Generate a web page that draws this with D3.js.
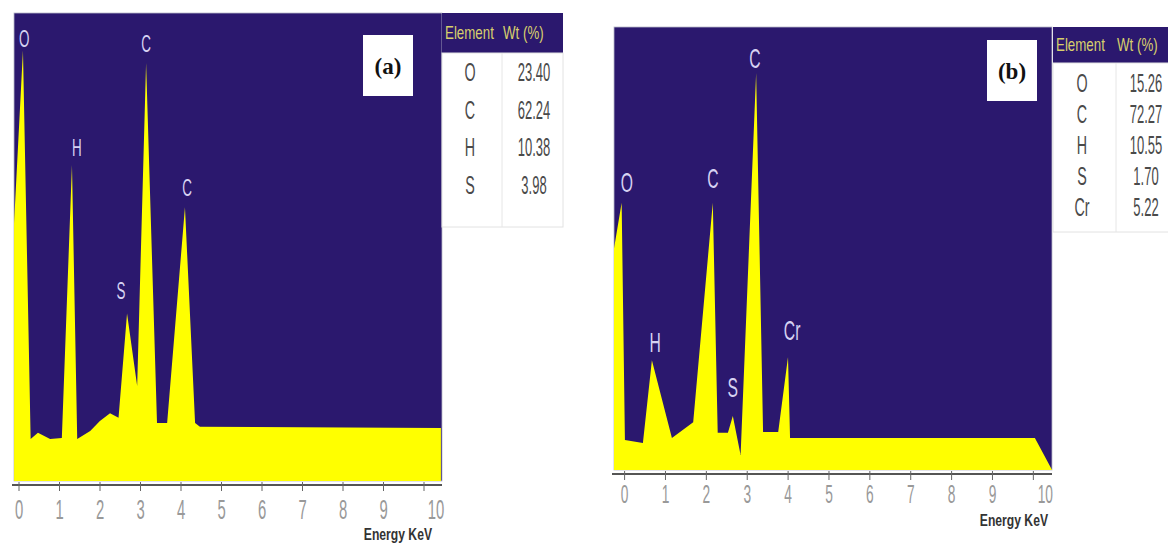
<!DOCTYPE html>
<html>
<head>
<meta charset="utf-8">
<script src="https://cdn.jsdelivr.net/npm/d3@7"></script>
<style>
  body { margin: 0; background: #fff; }
  svg text { font-family: "Liberation Sans", Arial, sans-serif; }
</style>
</head>
<body>
<div id="chart"></div>
<script>
// energy axis ticks (keV)
var energyTicks = [0, 1, 2, 3, 4, 5, 6, 7, 8, 9, 10];

// spectrum (a): energy in keV, counts on a relative 0-100 scale
var energyA = [-0.11, 0.11, 0.30, 0.48, 0.78, 1.07, 1.32, 1.45, 1.77, 2.01, 2.26, 2.47, 2.68, 2.93, 3.15, 3.42, 3.67, 4.11, 4.36, 4.48, 10.43];
var countsA = [55, 92, 9.0, 10.3, 9.0, 9.2, 67.5, 9.0, 10.7, 12.8, 14.5, 13.5, 35.8, 20.3, 89.3, 12.4, 12.4, 58.5, 12.4, 11.6, 11.3];
var peakNamesA = ["O", "H", "S", "C", "C"];
var peakEnergyA = [0.14, 1.44, 2.53, 3.15, 4.16];
var peakCountsA = [94.6, 71.3, 40.7, 93.6, 62.7];
var elementsA = ["O", "C", "H", "S"];
var wtA = ["23.40", "62.24", "10.38", "3.98"];

// spectrum (b)
var energyB = [-0.247, -0.06, 0.02, 0.46, 0.68, 1.17, 1.69, 2.17, 2.29, 2.54, 2.66, 2.85, 3.23, 3.40, 3.77, 4.01, 4.06, 10.05, 10.47];
var countsB = [50, 60.3, 6.8, 6.1, 24.8, 7.2, 10.8, 60.3, 8.4, 8.4, 12.2, 3.4, 89.6, 8.6, 8.6, 25.5, 7.2, 7.2, 0];
var peakNamesB = ["O", "H", "C", "S", "C", "Cr"];
var peakEnergyB = [0.07, 0.76, 2.17, 2.66, 3.20, 4.11];
var peakCountsB = [65.0, 28.9, 65.9, 18.7, 93.0, 31.6];
var elementsB = ["O", "C", "H", "S", "Cr"];
var wtB = ["15.26", "72.27", "10.55", "1.70", "5.22"];

var BLUE = "#2b186e", YELLOW = "#ffff00";

var svg = d3.select("#chart").append("svg")
    .attr("width", 1168)
    .attr("height", 546);

// text squeezed horizontally, like the narrow font of the original
function narrow(g, txt, x, y, size, sx, anchor, fill, weight) {
    return g.append("text")
        .attr("transform", "translate(" + x + "," + y + ") scale(" + sx + ",1)")
        .attr("text-anchor", anchor || "middle")
        .attr("dominant-baseline", "central")
        .style("font-size", size + "px")
        .style("font-weight", weight || "normal")
        .attr("fill", fill)
        .text(txt);
}

function drawPanel(p) {
    var g = svg.append("g");
    var x = d3.scaleLinear().domain([0, 10]).range(p.xRange);
    var y = d3.scaleLinear().domain([0, 100]).range(p.yRange);

    g.append("rect")
        .attr("x", p.left).attr("y", p.top)
        .attr("width", p.right - p.left).attr("height", y(0) - p.top)
        .attr("fill", BLUE)
        .attr("stroke", "#b8b8c8").attr("stroke-width", 0.8);

    var pts = p.energy.map(function(e, i) { return [e, p.counts[i]]; });
    var area = d3.area()
        .x(function(d) { return x(d[0]); })
        .y0(y(0))
        .y1(function(d) { return y(d[1]); });
    g.append("path").datum(pts).attr("d", area).attr("fill", YELLOW);

    // peak labels
    p.peakNames.forEach(function(n, i) {
        narrow(g, n, x(p.peakEnergy[i]), y(p.peakCounts[i]), p.labelSize, 0.56, "middle", "#d6d2f2");
    });

    // energy axis
    var ax = g.append("g").attr("transform", "translate(0," + p.axisY + ")");
    ax.append("line")
        .attr("x1", p.left - 2).attr("x2", p.right)
        .attr("stroke", "#555").attr("stroke-width", 2);
    ax.call(d3.axisBottom(x).tickValues(energyTicks).tickSize(6).tickSizeOuter(0))
        .call(function(a) { a.select(".domain").remove(); });
    ax.selectAll(".tick line").attr("y1", -3).attr("stroke", "#666");
    ax.selectAll(".tick text")
        .attr("y", p.tickTextY).attr("dy", null)
        .attr("fill", "#999")
        .style("font-size", p.tickSize + "px")
        .attr("transform", function(d) { return d === 10 ? "translate(12,0) scale(0.55,1)" : "scale(0.55,1)"; });

    narrow(g, "Energy KeV", p.xlabel[0], p.xlabel[1], 16, 0.76, "end", "#333", "bold");

    // panel tag
    g.append("rect")
        .attr("x", p.tag[0]).attr("y", p.tag[1]).attr("width", 50).attr("height", 61)
        .attr("fill", "#fff");
    g.append("text")
        .attr("x", p.tag[0] + 25).attr("y", p.tag[1] + 31)
        .attr("text-anchor", "middle").attr("dominant-baseline", "central")
        .style("font-family", "'Liberation Serif', serif")
        .style("font-size", "23px").style("font-weight", "bold")
        .attr("fill", "#111")
        .text(p.tagText);

    // composition table
    var t = p.table;
    g.append("rect").attr("x", t.x).attr("y", t.y).attr("width", t.w).attr("height", t.head)
        .attr("fill", BLUE);
    g.append("rect").attr("x", t.x).attr("y", t.y + t.head).attr("width", t.w).attr("height", t.body)
        .attr("fill", "#fff").attr("stroke", "#e2e2e2");
    g.append("line")
        .attr("x1", t.split).attr("x2", t.split)
        .attr("y1", t.y + t.head).attr("y2", t.y + t.head + t.body)
        .attr("stroke", "#e6e6e6");
    narrow(g, "Element", t.x + 3, t.y + t.head / 2, 18, 0.74, "start", "#d8cf6c");
    narrow(g, "Wt (%)", t.split + 1, t.y + t.head / 2, 18, 0.74, "start", "#d8cf6c");
    p.elements.forEach(function(el, i) {
        var ry = t.y + t.head + t.row0 + i * t.step;
        narrow(g, el, t.col1, ry, 26, 0.55, "middle", "#4a4a4a");
        narrow(g, p.wt[i], t.col2, ry, 26, 0.5, "middle", "#4a4a4a");
    });
}

drawPanel({
    left: 14, right: 442, top: 13,
    xRange: [18.5, 423.5], yRange: [481, 13],
    energy: energyA, counts: countsA,
    peakNames: peakNamesA, peakEnergy: peakEnergyA, peakCounts: peakCountsA,
    labelSize: 24,
    axisY: 485, tickTextY: 34, tickSize: 27,
    xlabel: [432, 534],
    tag: [363, 35], tagText: "(a)",
    elements: elementsA, wt: wtA,
    table: { x: 442, y: 13, w: 121, head: 40, body: 174, split: 502, col1: 470, col2: 534, row0: 19, step: 37.5 }
});

drawPanel({
    left: 614, right: 1052, top: 27,
    xRange: [624.1, 1032.85], yRange: [470, 27],
    energy: energyB, counts: countsB,
    peakNames: peakNamesB, peakEnergy: peakEnergyB, peakCounts: peakCountsB,
    labelSize: 28,
    axisY: 474, tickTextY: 29, tickSize: 25,
    xlabel: [1048, 520],
    tag: [987, 40], tagText: "(b)",
    elements: elementsB, wt: wtB,
    table: { x: 1053, y: 27, w: 120, head: 36, body: 169, split: 1116, col1: 1082, col2: 1146, row0: 20, step: 31 }
});
</script>
</body>
</html>
